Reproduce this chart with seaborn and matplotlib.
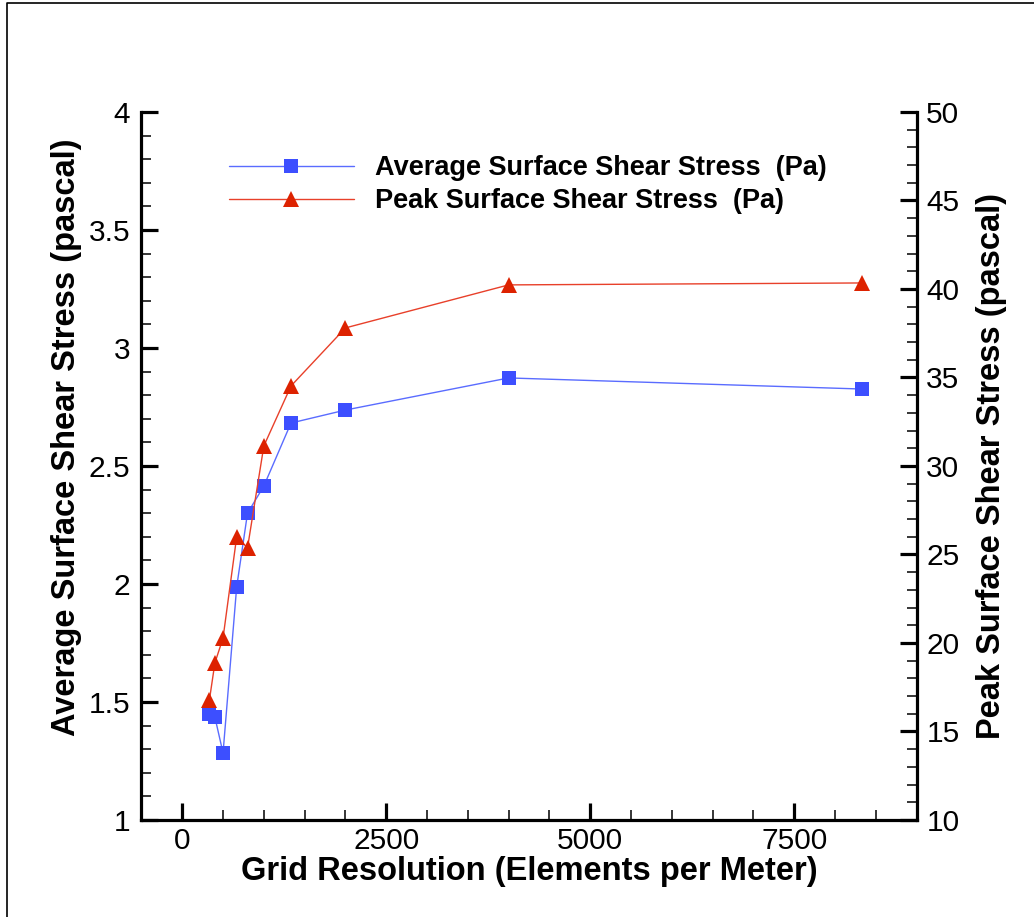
import matplotlib
matplotlib.use("Agg")
import matplotlib.pyplot as plt
import seaborn as sns
import pandas as pd
from matplotlib.ticker import MultipleLocator, FuncFormatter
from matplotlib.lines import Line2D

# ---- data ----
resolution = [333, 400, 500, 667, 800, 1000, 1333, 2000, 4000, 8333]
avg_stress = [1.449, 1.436, 1.284, 1.987, 2.30, 2.415, 2.682, 2.737, 2.873, 2.826]
peak_stress = [16.78, 18.87, 20.28, 25.99, 25.37, 31.13, 34.52, 37.8, 40.23, 40.34]
avg_label = "Average Surface Shear Stress  (Pa)"
peak_label = "Peak Surface Shear Stress  (Pa)"
x_title = "Grid Resolution (Elements per Meter)"
y_left_title = "Average Surface Shear Stress (pascal)"
y_right_title = "Peak Surface Shear Stress (pascal)"

sns.set_theme(style="white")
plt.rcParams["font.family"] = ["Liberation Sans", "DejaVu Sans"]
plt.rcParams["text.color"] = "black"
plt.rcParams["axes.labelcolor"] = "black"
plt.rcParams["xtick.color"] = "black"
plt.rcParams["ytick.color"] = "black"

df = pd.DataFrame({"res": resolution, "avg": avg_stress, "peak": peak_stress})

fig = plt.figure(figsize=(10.34, 9.17), dpi=100)
ax = fig.add_axes([0.1368, 0.1058, 0.8864 - 0.1368, 0.8779 - 0.1058])
ax2 = ax.twinx()

blue_m = "#3d4fff"
blue_l = "#5a6cff"
red_m = "#dd2200"
red_l = "#e8402a"

sns.lineplot(data=df, x="res", y="avg", ax=ax, color=blue_l, linewidth=1.0,
             marker="s", markersize=10.5, markerfacecolor=blue_m,
             markeredgecolor=blue_m, markeredgewidth=0, legend=False)
sns.lineplot(data=df, x="res", y="peak", ax=ax2, color=red_l, linewidth=1.0,
             marker="^", markersize=12, markerfacecolor=red_m,
             markeredgecolor=red_m, markeredgewidth=0, legend=False)

ax.set_xlim(-500, 9000)
ax.set_ylim(1, 4)
ax2.set_ylim(10, 50)

for a in (ax, ax2):
    a.grid(False)
    a.set_facecolor("none")
    for s in a.spines.values():
        s.set_visible(False)
ax.spines["left"].set_visible(True)
ax.spines["bottom"].set_visible(True)
ax2.spines["right"].set_visible(True)
for s in (ax.spines["left"], ax.spines["bottom"], ax2.spines["right"]):
    s.set_linewidth(2.3)
    s.set_color("black")

ax.xaxis.set_major_locator(MultipleLocator(2500))
ax.xaxis.set_minor_locator(MultipleLocator(500))
ax.yaxis.set_major_locator(MultipleLocator(0.5))
ax.yaxis.set_minor_locator(MultipleLocator(0.1))
ax2.yaxis.set_major_locator(MultipleLocator(5))
ax2.yaxis.set_minor_locator(MultipleLocator(1))
ax.yaxis.set_major_formatter(FuncFormatter(lambda v, p: f"{v:g}"))
ax.xaxis.set_major_formatter(FuncFormatter(lambda v, p: f"{v:g}"))
ax2.yaxis.set_major_formatter(FuncFormatter(lambda v, p: f"{v:g}"))

ax.tick_params(axis="x", which="major", direction="in", length=12, width=2.3,
               labelsize=21.5, pad=5, bottom=True, top=False, color="black")
ax.tick_params(axis="x", which="minor", direction="in", length=7, width=1.1,
               bottom=True, top=False, color="black")
ax.tick_params(axis="y", which="major", direction="in", length=12, width=2.3,
               labelsize=21.5, pad=8, left=True, right=False, color="black")
ax.tick_params(axis="y", which="minor", direction="in", length=7, width=1.1,
               left=True, right=False, color="black")
ax2.tick_params(axis="y", which="major", direction="in", length=12, width=2.3,
                labelsize=21.5, pad=7, right=True, left=False, color="black")
ax2.tick_params(axis="y", which="minor", direction="in", length=7, width=1.1,
                right=True, left=False, color="black")

ax.set_xlabel(x_title, fontsize=23.5, fontweight="bold", labelpad=1)
ax.set_ylabel(y_left_title, fontsize=23.5, fontweight="bold")
ax.yaxis.set_label_coords(-0.077, 0.541)
ax2.set_ylabel(y_right_title, fontsize=23.5, fontweight="bold", labelpad=12)

handles = [
    Line2D([0], [0], color=blue_l, linewidth=1.0, marker="s", markersize=10.5,
           markerfacecolor=blue_m, markeredgewidth=0),
    Line2D([0], [0], color=red_l, linewidth=1.0, marker="^", markersize=12,
           markerfacecolor=red_m, markeredgewidth=0),
]
leg = ax.legend(handles, [avg_label, peak_label], loc="upper left",
                bbox_to_anchor=(0.099, 0.954), frameon=False,
                prop={"weight": "bold", "size": 19.5}, handlelength=4.6,
                handletextpad=0.8, labelspacing=0.25, borderaxespad=0)

# figure border (left and top edges)
fig.add_artist(Line2D([7 / 1034, 7 / 1034, 1.0], [0.0, 1 - 2.5 / 917, 1 - 2.5 / 917],
                      transform=fig.transFigure, color="black", linewidth=1.2))

fig.savefig("out.png", dpi=100)
